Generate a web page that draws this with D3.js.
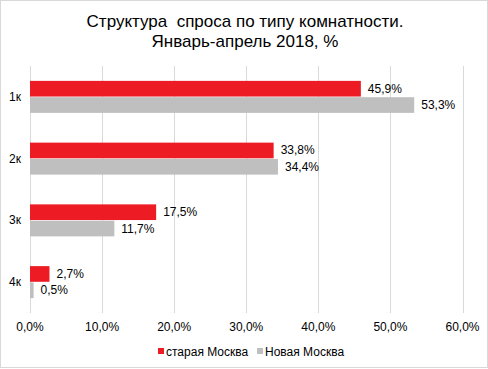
<!DOCTYPE html>
<html>
<head>
<meta charset="utf-8">
<script src="https://d3js.org/d3.v7.min.js"></script>
<style>
  body { margin: 0; background: #fff; }
  text { font-family: "Liberation Sans", Arial, sans-serif; fill: #000; }
</style>
</head>
<body>
<svg id="chart" width="488" height="369"></svg>
<script>
var categories = ["1к", "2к", "3к", "4к"];
var seriesNames = ["старая Москва", "Новая Москва"];
var oldMoscow = [45.9, 33.8, 17.5, 2.7];
var newMoscow = [53.3, 34.4, 11.7, 0.5];
var xTicks = [0, 10, 20, 30, 40, 50, 60];
var colors = ["#ed1c24", "#bfbfbf"];

var svg = d3.select("#chart"),
    width = +svg.attr("width"),
    height = +svg.attr("height");

var fmt = function(v) { return v.toFixed(1).replace(".", ",") + "%"; };

// frame
svg.append("rect")
  .attr("x", 0.5).attr("y", 0.5)
  .attr("width", width - 1).attr("height", height - 2)
  .attr("fill", "#fff").attr("stroke", "#d9d9d9");

// title
svg.append("text").attr("x", 245).attr("y", 27)
  .attr("text-anchor", "middle").style("font-size", "17px")
  .style("white-space", "pre")
  .text("Структура  спроса по типу комнатности.");
svg.append("text").attr("x", 245).attr("y", 47)
  .attr("text-anchor", "middle").style("font-size", "17px")
  .text("Январь-апрель 2018, %");

var x = d3.scaleLinear().domain([0, 60]).range([30, 462.5]);
var y = d3.scaleBand().domain(categories).range([66, 313]);
var mid = y.bandwidth() / 2;
var inner = d3.scaleBand().domain([0, 1]).range([mid - 16, mid + 16]).paddingInner(0.04);

// gridlines
svg.append("g").selectAll("line")
  .data(xTicks).enter().append("line")
  .attr("x1", function(d) { return Math.round(x(d)) + 0.5; })
  .attr("x2", function(d) { return Math.round(x(d)) + 0.5; })
  .attr("y1", 66).attr("y2", 313)
  .attr("stroke", "#d9d9d9");

// x tick labels
svg.append("g").selectAll("text")
  .data(xTicks).enter().append("text")
  .attr("x", function(d) { return x(d); })
  .attr("y", 331)
  .attr("text-anchor", "middle").style("font-size", "12px")
  .text(function(d) { return d.toFixed(1).replace(".", ",") + "%"; });

// category labels
svg.append("g").selectAll("text")
  .data(categories).enter().append("text")
  .attr("x", 21)
  .attr("y", function(d) { return y(d) + y.bandwidth() / 2 + 4; })
  .attr("text-anchor", "end").style("font-size", "12px")
  .text(function(d) { return d; });

var series = [oldMoscow, newMoscow];
series.forEach(function(vals, s) {
  var g = svg.append("g");
  g.selectAll("rect")
    .data(vals).enter().append("rect")
    .attr("x", x(0))
    .attr("y", function(d, i) { return y(categories[i]) + inner(s); })
    .attr("width", function(d) { return x(d) - x(0); })
    .attr("height", inner.bandwidth())
    .attr("fill", colors[s]);
  g.selectAll("text")
    .data(vals).enter().append("text")
    .attr("x", function(d) { return x(d) + 7; })
    .attr("y", function(d, i) { return y(categories[i]) + inner(s) + inner.bandwidth() / 2 + 4; })
    .style("font-size", "12px")
    .text(fmt);
});

// legend
var legendX = [158, 257];
seriesNames.forEach(function(name, s) {
  svg.append("rect")
    .attr("x", legendX[s]).attr("y", 348)
    .attr("width", 6).attr("height", 6)
    .attr("fill", colors[s]);
  svg.append("text")
    .attr("x", legendX[s] + 8).attr("y", 356)
    .style("font-size", "12px")
    .text(name);
});
</script>
</body>
</html>
